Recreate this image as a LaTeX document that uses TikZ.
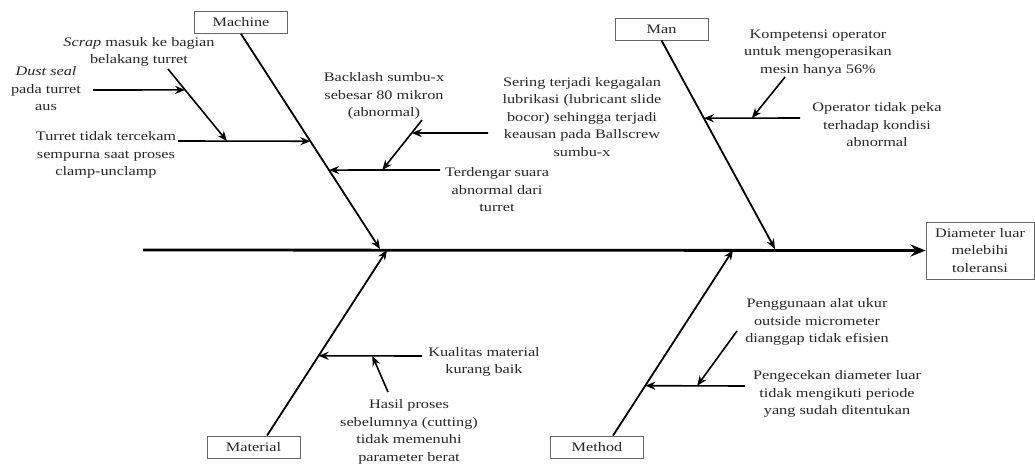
\documentclass[tikz,border=0pt]{standalone}
\usepackage{fontspec}
\setmainfont{Liberation Serif}[FakeStretch=1.25]
\usetikzlibrary{arrows.meta, positioning}
\tikzset{
  bonetext/.style = {align=center, inner sep=0pt, text=black!85,
    font=\fontsize{13}{17.5}\selectfont},
  catbox/.style = {bonetext, draw=black!60, line width=0.8pt,
    minimum width=93pt, minimum height=22pt},
  bone/.style = {->, line width=1.8pt},
  sub/.style = {->, line width=1.6pt}
}

\begin{document}
\begin{tikzpicture}[x=1pt, y=-1pt, >={Stealth[length=10pt,width=8pt]}]
\useasboundingbox (0,0) rectangle (1035,463);
% head and spine
\node [catbox, minimum width=108pt, minimum height=57pt] (effect) at (980,250.5) {Diameter luar\\melebihi\\toleransi};
\coordinate (tail) at (143,250);
\draw [line width=2.8pt, -{Stealth[length=15pt,width=12pt]}] (tail) -- (effect.west);

% categories
\node [catbox] (machine) at (241,22.5) {Machine};
\node [catbox] (man) at (661.5,29) {Man};
\node [catbox] (material) at (253.5,447) {Material};
\node [catbox] (method) at (597,447) {Method};

\coordinate (machinetip) at (380,249);
\coordinate (mantip) at (775,249);
\coordinate (materialtip) at (387,250);
\coordinate (methodtip) at (733,250);
\coordinate (materialbase) at ([xshift=13.5pt]material.north);
\coordinate (methodbase) at ([xshift=16pt]method.north);

\draw [bone] (machine.south) -- (machinetip) coordinate[pos=0.499] (m1) coordinate[pos=0.633] (m2);
\draw [bone] (man.south) -- (mantip) coordinate[pos=0.373] (n1);
\draw [bone] (materialbase) -- (materialtip) coordinate[pos=0.43] (t1);
\draw [bone] (methodbase) -- (methodtip) coordinate[pos=0.269] (d1);

% machine
\node [bonetext] (turret) at (106,155) {Turret tidak tercekam\\sempurna saat proses\\clamp-unclamp};
\coordinate (turretend) at (178,141);
\draw [sub] (turretend) -- (m1) coordinate[pos=0.37] (m1a);
\node [bonetext] (scrap) at (139,52) {\textit{Scrap} masuk ke bagian\\belakang turret};
\coordinate (scrapend) at (168,69);
\draw [sub] (scrapend) -- (m1a) coordinate[pos=0.29] (m1b);
\node [bonetext] (dust) at (46,89) {\textit{Dust seal}\\pada turret\\aus};
\coordinate (dustend) at (93,90);
\draw [sub] (dustend) -- (m1b);

\node [bonetext] (sound) at (497,190) {Terdengar suara\\abnormal dari\\turret};
\coordinate (soundend) at (440,170);
\draw [sub] (soundend) -- (m2) coordinate[pos=0.52] (m2a);
\node [bonetext] (backlash) at (384,96) {Backlash sumbu-x\\sebesar 80 mikron\\(abnormal)};
\coordinate (backlashend) at (422,120);
\draw [sub] (backlashend) -- (m2a) coordinate[pos=0.26] (m2b);
\node [bonetext] (lube) at (582,117) {Sering terjadi kegagalan\\lubrikasi (lubricant slide\\bocor) sehingga terjadi\\keausan pada Ballscrew\\sumbu-x};
\coordinate (lubeend) at (488,133);
\draw [sub] (lubeend) -- (m2b);

% man
\node [bonetext] (sense) at (877,125) {Operator tidak peka\\terhadap kondisi\\abnormal};
\coordinate (senseend) at (800,118);
\draw [sub] (senseend) -- (n1) coordinate[pos=0.5] (n1a);
\node [bonetext] (skill) at (818,53) {Kompetensi operator\\untuk mengoperasikan\\mesin hanya 56\%};
\coordinate (skillend) at (785,77);
\draw [sub] (skillend) -- (n1a);

% material
\node [bonetext] (quality) at (484,362) {Kualitas material\\kurang baik};
\coordinate (qualityend) at (422,356);
\draw [sub] (qualityend) -- (t1) coordinate[pos=0.48] (t1a);
\node [bonetext] (cutting) at (409,432) {Hasil proses\\sebelumnya (cutting)\\tidak memenuhi\\parameter berat};
\coordinate (cuttingend) at (388,392);
\draw [sub] (cuttingend) -- (t1a);

% method
\node [bonetext] (check) at (837,394) {Pengecekan diameter luar\\tidak mengikuti periode\\yang sudah ditentukan};
\coordinate (checkend) at (745,386);
\draw [sub] (checkend) -- (d1) coordinate[pos=0.48] (d1a);
\node [bonetext] (gauge) at (817,322) {Penggunaan alat ukur\\outside micrometer\\dianggap tidak efisien};
\coordinate (gaugeend) at (737,331);
\draw [sub] (gaugeend) -- (d1a);
\end{tikzpicture}
\end{document}
